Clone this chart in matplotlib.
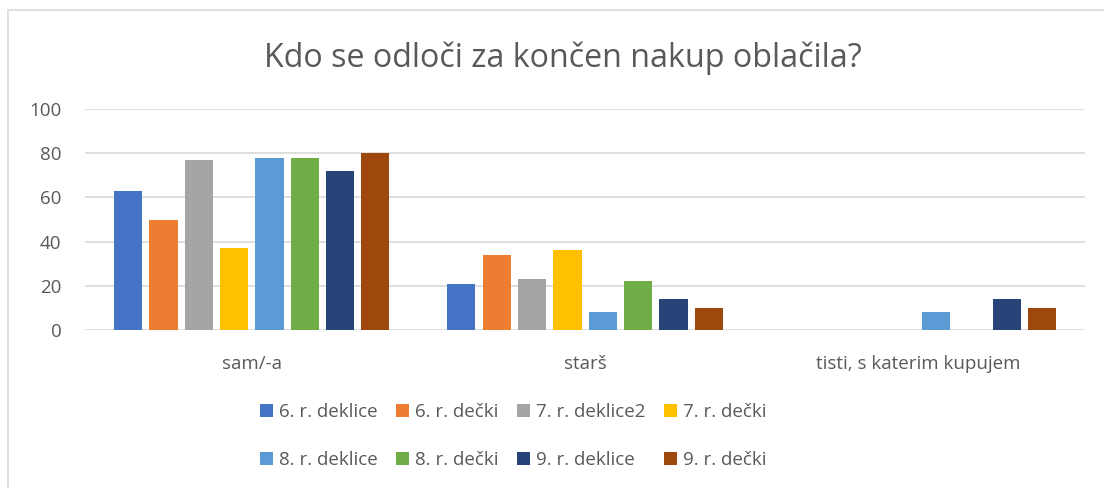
import matplotlib
matplotlib.use("Agg")
import matplotlib.pyplot as plt
import numpy as np
from matplotlib.patches import Rectangle

categories = ["sam/-a", "starš", "tisti, s katerim kupujem"]
series_names = ["6. r. deklice", "6. r. dečki", "7. r. deklice2", "7. r. dečki",
                "8. r. deklice", "8. r. dečki", "9. r. deklice", "9. r. dečki"]
v6_deklice = [63, 21, 0]
v6_decki = [50, 34, 0]
v7_deklice2 = [77, 23, 0]
v7_decki = [37, 36, 0]
v8_deklice = [78, 8, 8]
v8_decki = [78, 22, 0]
v9_deklice = [72, 14, 14]
v9_decki = [80, 10, 10]
colors = ["#4472C4", "#ED7D31", "#A5A5A5", "#FFC000",
          "#5B9BD5", "#70AD47", "#264478", "#9E480E"]
yticks = [0, 20, 40, 60, 80, 100]

series = [v6_deklice, v6_decki, v7_deklice2, v7_decki,
          v8_deklice, v8_decki, v9_deklice, v9_decki]

plt.rcParams['font.family'] = ['Open Sans', 'DejaVu Sans']
W, H = 1104, 488
fig = plt.figure(figsize=(W/100, H/100), dpi=100)
ax = fig.add_axes([85/W, 1-330/H, 1000/W, 221/H])

x = np.arange(len(categories))
step = 0.106
width = 0.085
handles = []
for i, (vals, c, name) in enumerate(zip(series, colors, series_names)):
    off = (i - 3.5) * step
    b = ax.bar(x + off, vals, width=width, color=c, label=name, zorder=3)
    handles.append(b)

ax.set_xlim(-0.5, 2.5)
ax.set_ylim(0, 100)
ax.set_yticks(yticks)
ax.set_xticks(x)
ax.set_xticklabels(categories)
ax.grid(axis='y', color='#D9D9D9', linewidth=1.2, zorder=0)
for s in ax.spines.values():
    s.set_visible(False)
ax.tick_params(axis='both', length=0, labelsize=13.5, colors='#595959')
ax.tick_params(axis='y', pad=17)
ax.tick_params(axis='x', pad=18)

fig.text(0.5 + 0.01, 1-58/H, "Kdo se odloči za končen nakup oblačila?",
         ha='center', va='center', fontsize=23.2, color='#595959')

# legend fills column-wise; reorder so rows read in series order
order = [0, 4, 1, 5, 2, 6, 3, 7]
leg = fig.legend(handles=[handles[k] for k in order], loc='center', ncol=4,
                 bbox_to_anchor=(513/W, 1-436/H), frameon=False,
                 fontsize=13.5, labelcolor='#595959', handlelength=0.7,
                 handleheight=0.7, handletextpad=0.3, columnspacing=1.0,
                 labelspacing=1.6)

fig.patches.append(Rectangle((8/W, -0.1), 1.2, (1-10/H)+0.1,
                             transform=fig.transFigure, fill=False,
                             edgecolor='#D9D9D9', linewidth=1.2))

fig.savefig("out.png", dpi=100)
